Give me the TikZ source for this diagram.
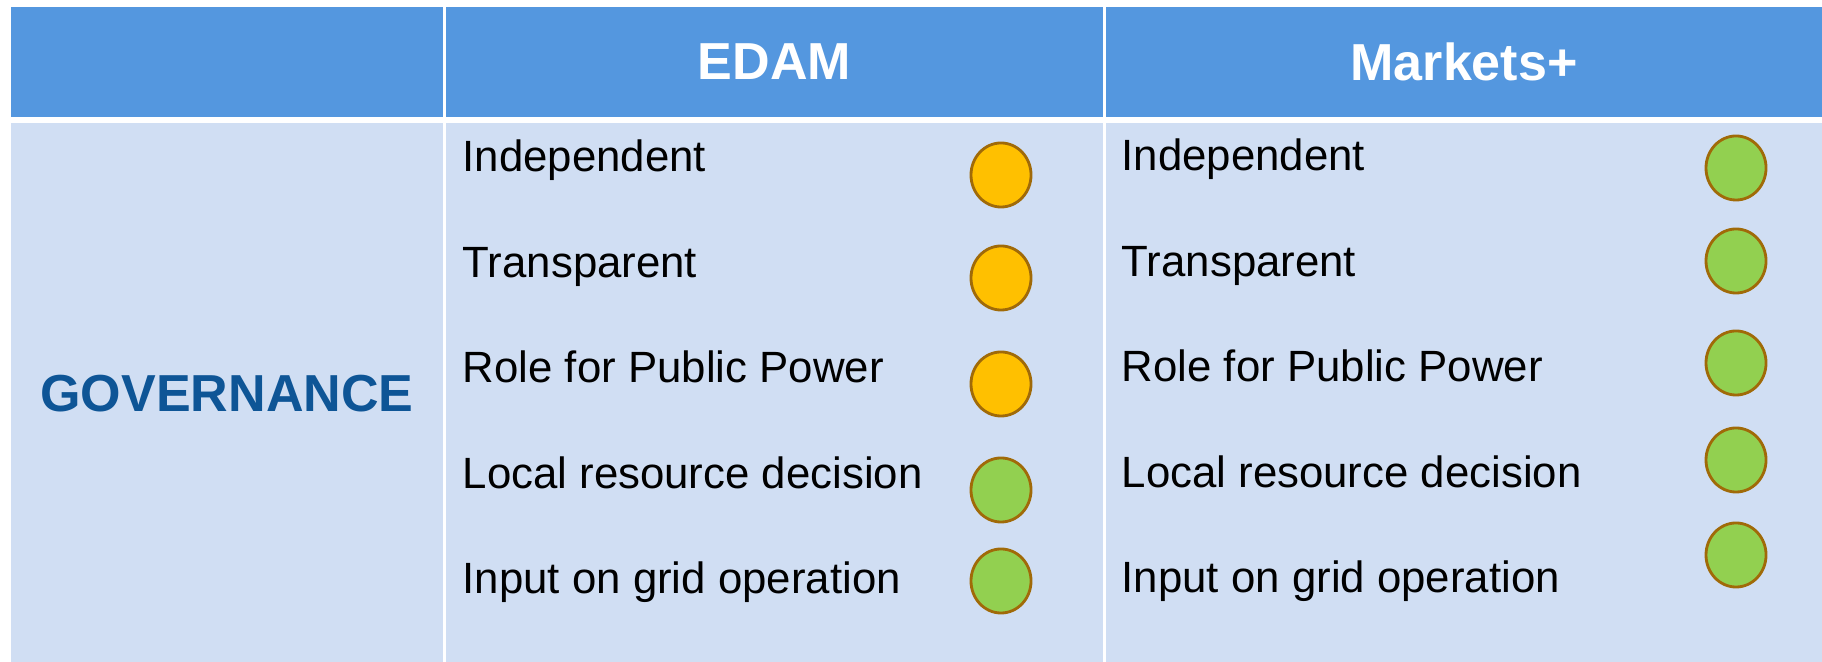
\documentclass[tikz,border=0pt]{standalone}
\usepackage{fontspec}
\setmainfont{Liberation Sans}
\usepackage{tikz}
\usetikzlibrary{shapes.geometric}
\definecolor{headblue}{RGB}{84,151,223}
\definecolor{cellblue}{RGB}{208,222,243}
\definecolor{govblue}{RGB}{14,85,150}
\definecolor{dotorange}{RGB}{255,192,0}
\definecolor{dotgreen}{RGB}{146,208,80}
\definecolor{dotrim}{RGB}{160,106,8}
\tikzset{
    head/.style={text=white, font=\fontsize{14.8}{16}\selectfont\bfseries, inner sep=0pt},
    item/.style={anchor=base west, font=\fontsize{12.45}{14}\selectfont, inner sep=0pt},
    dot/.style={ellipse, draw=dotrim, line width=0.8pt, minimum width=0.6cm, minimum height=0.64cm, inner sep=0pt}
}
\begin{document}
\begin{tikzpicture}[x=0.01cm, y=-0.01cm]
    \useasboundingbox (0,0) rectangle (1822,662);
    % header row
    \fill [headblue] (11,7) rectangle (443,117);
    \fill [headblue] (446,7) rectangle (1103,117);
    \fill [headblue] (1106,7) rectangle (1822,117);
    % body row
    \fill [cellblue] (11,123) rectangle (443,662);
    \fill [cellblue] (446,123) rectangle (1103,662);
    \fill [cellblue] (1106,123) rectangle (1822,662);

    \node [head] (edam) at (774.5,62) {EDAM};
    \node [head] (mplus) at (1464,62) {Markets+};
    \node [head, text=govblue] (gov) at (227,394) {GOVERNANCE};

    \foreach \t [count=\i] in {Independent, Transparent, Role for Public Power,
        Local resource decision, Input on grid operation} {
      \node [item] (e\i) at (462, 66.5+105.5*\i) {\t};
      \node [item] (m\i) at (1121, 65.5+105.5*\i) {\t};
    }

    \foreach \y/\c [count=\i] in {175/dotorange, 278/dotorange, 384/dotorange, 490/dotgreen, 581/dotgreen}
      \node [dot, fill=\c] (ed\i) at (1001,\y) {};
    \foreach \y [count=\i] in {168, 261, 363, 460, 555}
      \node [dot, fill=dotgreen] (md\i) at (1736,\y) {};
\end{tikzpicture}
\end{document}
